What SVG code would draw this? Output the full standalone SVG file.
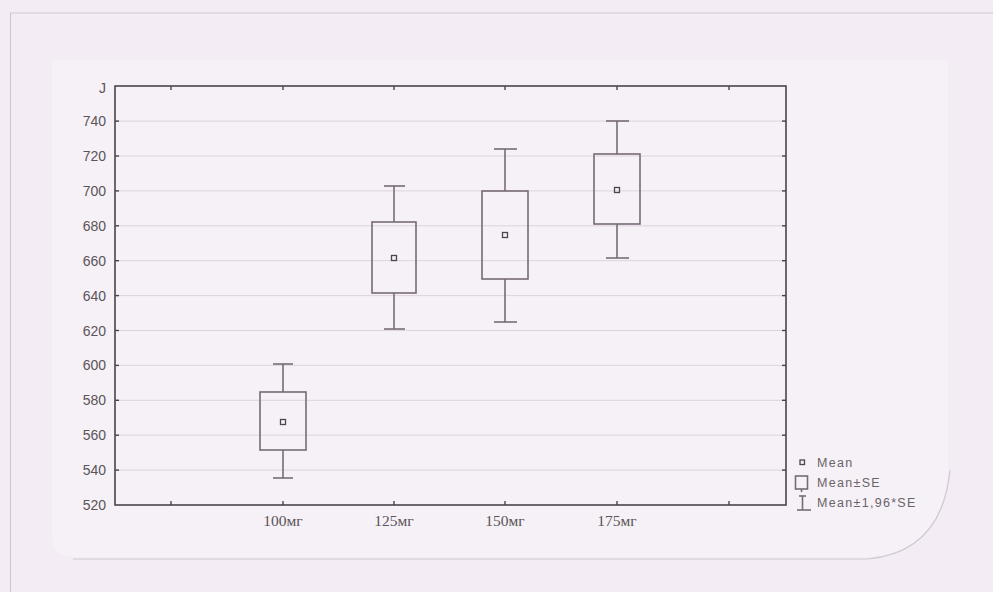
<svg xmlns="http://www.w3.org/2000/svg" width="993" height="592" viewBox="0 0 993 592">
<style>
.grid{stroke:#dcd3de;stroke-width:1}
.axis{stroke:#4a4548;stroke-width:1.6;fill:none}
.tick{stroke:#4a4548;stroke-width:1.4}
.box{fill:none;stroke:#776c76;stroke-width:1.6}
.wh{stroke:#776c76;stroke-width:1.6}
.mean{fill:none;stroke:#4d474b;stroke-width:1.3}
.ylab{font-family:"Liberation Sans",Arial,sans-serif;font-size:14px;fill:#5a5558;text-anchor:end}
.xlab{font-family:"Liberation Serif","Times New Roman",serif;font-size:15.5px;fill:#5a5558;text-anchor:middle}
.leg{font-family:"Liberation Sans",Arial,sans-serif;font-size:12.5px;fill:#6a6468;letter-spacing:1.3px}
.frame{stroke:#cfc7d1;stroke-width:1.2;fill:none}
</style>
<rect width="993" height="592" fill="#f4ecf5"/>
<path d="M52 60 H948 V470 Q942 552 868 557 H74 Q52 557 52 535 Z" fill="#f6f0f7"/>
<g id="page-frame">
<line class="frame" x1="10" y1="13" x2="993" y2="13"/>
<line class="frame" x1="10.5" y1="13" x2="10.5" y2="592"/>
<path class="frame" d="M73 559 H868 Q942 552 950 470"/>
</g>
<g id="grid">
<line class="grid" x1="115" y1="470.1" x2="786" y2="470.1"/>
<line class="grid" x1="115" y1="435.2" x2="786" y2="435.2"/>
<line class="grid" x1="115" y1="400.3" x2="786" y2="400.3"/>
<line class="grid" x1="115" y1="365.4" x2="786" y2="365.4"/>
<line class="grid" x1="115" y1="330.5" x2="786" y2="330.5"/>
<line class="grid" x1="115" y1="295.6" x2="786" y2="295.6"/>
<line class="grid" x1="115" y1="260.7" x2="786" y2="260.7"/>
<line class="grid" x1="115" y1="225.8" x2="786" y2="225.8"/>
<line class="grid" x1="115" y1="190.9" x2="786" y2="190.9"/>
<line class="grid" x1="115" y1="156" x2="786" y2="156"/>
<line class="grid" x1="115" y1="121.1" x2="786" y2="121.1"/>
</g>
<g id="axes">
<rect class="axis" x="115" y="86" width="671" height="419"/>
<g class="tick">
<line x1="115" y1="470.1" x2="119" y2="470.1"/><line x1="115" y1="435.2" x2="119" y2="435.2"/><line x1="115" y1="400.3" x2="119" y2="400.3"/><line x1="115" y1="365.4" x2="119" y2="365.4"/><line x1="115" y1="330.5" x2="119" y2="330.5"/><line x1="115" y1="295.6" x2="119" y2="295.6"/><line x1="115" y1="260.7" x2="119" y2="260.7"/><line x1="115" y1="225.8" x2="119" y2="225.8"/><line x1="115" y1="190.9" x2="119" y2="190.9"/><line x1="115" y1="156" x2="119" y2="156"/><line x1="115" y1="121.1" x2="119" y2="121.1"/>
<line x1="786" y1="470.1" x2="782" y2="470.1"/><line x1="786" y1="435.2" x2="782" y2="435.2"/><line x1="786" y1="400.3" x2="782" y2="400.3"/><line x1="786" y1="365.4" x2="782" y2="365.4"/><line x1="786" y1="330.5" x2="782" y2="330.5"/><line x1="786" y1="295.6" x2="782" y2="295.6"/><line x1="786" y1="260.7" x2="782" y2="260.7"/><line x1="786" y1="225.8" x2="782" y2="225.8"/><line x1="786" y1="190.9" x2="782" y2="190.9"/><line x1="786" y1="156" x2="782" y2="156"/><line x1="786" y1="121.1" x2="782" y2="121.1"/>
<line x1="171" y1="505" x2="171" y2="501"/><line x1="283" y1="505" x2="283" y2="501"/><line x1="394" y1="505" x2="394" y2="501"/><line x1="505" y1="505" x2="505" y2="501"/><line x1="617" y1="505" x2="617" y2="501"/><line x1="729" y1="505" x2="729" y2="501"/>
<line x1="171" y1="86" x2="171" y2="90"/><line x1="283" y1="86" x2="283" y2="90"/><line x1="394" y1="86" x2="394" y2="90"/><line x1="505" y1="86" x2="505" y2="90"/><line x1="617" y1="86" x2="617" y2="90"/><line x1="729" y1="86" x2="729" y2="90"/>
</g>
</g>
<g id="y-labels">
<text class="ylab" x="106" y="93" font-size="11">J</text>
<text class="ylab" x="106" y="126">740</text>
<text class="ylab" x="106" y="161">720</text>
<text class="ylab" x="106" y="196">700</text>
<text class="ylab" x="106" y="231">680</text>
<text class="ylab" x="106" y="266">660</text>
<text class="ylab" x="106" y="301">640</text>
<text class="ylab" x="106" y="336">620</text>
<text class="ylab" x="106" y="370">600</text>
<text class="ylab" x="106" y="405">580</text>
<text class="ylab" x="106" y="440">560</text>
<text class="ylab" x="106" y="475">540</text>
<text class="ylab" x="106" y="510">520</text>
</g>
<g id="x-labels">
<text class="xlab" x="283" y="526">100мг</text>
<text class="xlab" x="394" y="526">125мг</text>
<text class="xlab" x="505" y="526">150мг</text>
<text class="xlab" x="617" y="526">175мг</text>
</g>
<g id="g100">
<line class="wh" x1="283" y1="364" x2="283" y2="392"/><line class="wh" x1="273" y1="364" x2="293" y2="364"/>
<line class="wh" x1="283" y1="450" x2="283" y2="478"/><line class="wh" x1="273" y1="478" x2="293" y2="478"/>
<rect class="box" x="260" y="392" width="46" height="58"/>
<rect class="mean" x="280.5" y="419.5" width="5" height="5"/>
</g>
<g id="g125">
<line class="wh" x1="394" y1="186" x2="394" y2="222"/><line class="wh" x1="384" y1="186" x2="405" y2="186"/>
<line class="wh" x1="394" y1="293" x2="394" y2="329"/><line class="wh" x1="384" y1="329" x2="405" y2="329"/>
<rect class="box" x="372" y="222" width="44" height="71"/>
<rect class="mean" x="391.5" y="255.5" width="5" height="5"/>
</g>
<g id="g150">
<line class="wh" x1="505" y1="149" x2="505" y2="191"/><line class="wh" x1="494" y1="149" x2="517" y2="149"/>
<line class="wh" x1="505" y1="279" x2="505" y2="322"/><line class="wh" x1="494" y1="322" x2="517" y2="322"/>
<rect class="box" x="482" y="191" width="46" height="88"/>
<rect class="mean" x="502.5" y="232.5" width="5" height="5"/>
</g>
<g id="g175">
<line class="wh" x1="617" y1="121" x2="617" y2="154"/><line class="wh" x1="606" y1="121" x2="629" y2="121"/>
<line class="wh" x1="617" y1="224" x2="617" y2="258"/><line class="wh" x1="606" y1="258" x2="629" y2="258"/>
<rect class="box" x="594" y="154" width="46" height="70"/>
<rect class="mean" x="614.5" y="187.5" width="5" height="5"/>
</g>
<g id="legend">
<rect class="mean" x="800" y="460" width="4.5" height="4.5"/>
<text class="leg" x="817" y="467">Mean</text>
<rect class="box" x="795.5" y="476" width="12" height="13"/>
<line class="wh" x1="801.5" y1="489" x2="801.5" y2="492"/>
<text class="leg" x="817" y="487">Mean±SE</text>
<line class="wh" x1="802.5" y1="496" x2="802.5" y2="510"/><line class="wh" x1="797" y1="510" x2="811" y2="510"/><line class="wh" x1="799" y1="496" x2="806" y2="496"/>
<text class="leg" x="817" y="507">Mean±1,96*SE</text>
</g>
</svg>
